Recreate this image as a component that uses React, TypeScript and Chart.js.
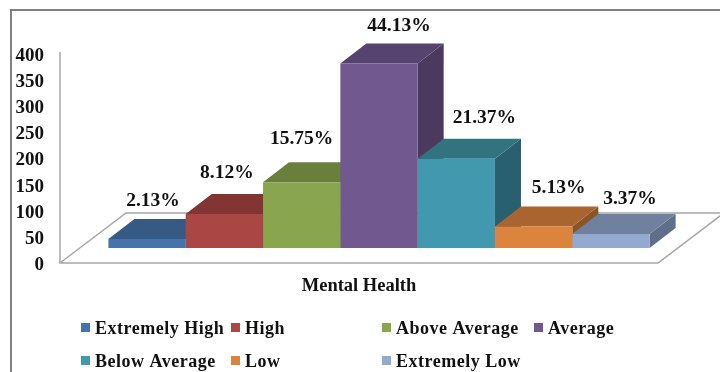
import { useEffect, useRef } from "react";
import { Chart, registerables } from "chart.js";

Chart.register(...registerables);

const categories = ["Mental Health"];
const levels = ["Extremely High", "High", "Above Average", "Average", "Below Average", "Low", "Extremely Low"];
const counts = [17, 65, 126, 353, 171, 41, 27];
const percentLabels = ["2.13%", "8.12%", "15.75%", "44.13%", "21.37%", "5.13%", "3.37%"];
const frontColors = ["#4674AA", "#AA4643", "#89A54E", "#71588F", "#4198AF", "#DB843D", "#93A9CF"];
const topColors = ["#375A85", "#833533", "#6B7F3D", "#57436F", "#31737F", "#A8652F", "#6F819F"];
const sideColors = ["#2E4B6F", "#6E2C2A", "#596A33", "#4B3A5E", "#29606F", "#8A5428", "#5F6F89"];
const yTicks = [0, 50, 100, 150, 200, 250, 300, 350, 400];

// Oblique projection used for the floor and the bar solids.
const FONT = "'Liberation Serif'";
const AXIS_GRAY = "#A6A6A6";
const FLOOR_LIFT = 2;
const FLOOR_DEPTH = { x: 66, y: 50 };
const BAR_SHIFT = { x: 20, y: 17 };
const BAR_DEPTH = { x: 26, y: 20 };
const LABEL_NUDGE_X = [6, 2.5, 0, 20, 28, 25, 19];
const LABEL_GAP_Y = [18, 21, 23, 18, 21, 19, 15];
const LEGEND_COLUMNS = [81, 231, 382, 534];
const LEGEND_ROWS = [328, 361];
const LEGEND_ORDER = [[0, 1, 2, 3], [4, 5, 6]];

const floorPlugin = {
  id: "floor",
  beforeDatasetsDraw(chart: any) {
    const { ctx, chartArea: a } = chart;
    const bottom = a.bottom - FLOOR_LIFT;
    ctx.save();
    ctx.strokeStyle = AXIS_GRAY;
    ctx.lineWidth = 1.5;
    ctx.beginPath();
    ctx.moveTo(a.left, a.top - 4);
    ctx.lineTo(a.left, bottom);
    ctx.lineTo(a.right, bottom);
    ctx.lineTo(a.right + FLOOR_DEPTH.x, bottom - FLOOR_DEPTH.y);
    ctx.moveTo(a.left, bottom);
    ctx.lineTo(a.left + FLOOR_DEPTH.x, bottom - FLOOR_DEPTH.y);
    ctx.lineTo(a.right + FLOOR_DEPTH.x, bottom - FLOOR_DEPTH.y);
    ctx.stroke();
    ctx.restore();
  },
};

// Tops and sides go first, left to right; the library then paints the front faces over them.
const solidBarsPlugin = {
  id: "solidBars",
  beforeDatasetsDraw(chart: any) {
    const { ctx } = chart;
    ctx.save();
    ctx.translate(BAR_SHIFT.x, -BAR_SHIFT.y);
    levels.forEach((_, i) => {
      const bar = chart.getDatasetMeta(i).data[0];
      const left = bar.x - bar.width / 2;
      const right = bar.x + bar.width / 2;
      ctx.fillStyle = sideColors[i];
      ctx.beginPath();
      ctx.moveTo(right, bar.y);
      ctx.lineTo(right + BAR_DEPTH.x, bar.y - BAR_DEPTH.y);
      ctx.lineTo(right + BAR_DEPTH.x, bar.base - BAR_DEPTH.y);
      ctx.lineTo(right, bar.base);
      ctx.closePath();
      ctx.fill();
      ctx.fillStyle = topColors[i];
      ctx.beginPath();
      ctx.moveTo(left, bar.y);
      ctx.lineTo(left + BAR_DEPTH.x, bar.y - BAR_DEPTH.y);
      ctx.lineTo(right + BAR_DEPTH.x, bar.y - BAR_DEPTH.y);
      ctx.lineTo(right, bar.y);
      ctx.closePath();
      ctx.fill();
    });
  },
  afterDatasetsDraw(chart: any) {
    const { ctx } = chart;
    ctx.restore();
    ctx.save();
    ctx.font = `bold 19.5px ${FONT}`;
    ctx.fillStyle = "#111";
    ctx.textAlign = "center";
    ctx.textBaseline = "middle";
    levels.forEach((_, i) => {
      const bar = chart.getDatasetMeta(i).data[0];
      const x = bar.x + BAR_SHIFT.x + LABEL_NUDGE_X[i];
      const y = bar.y - BAR_SHIFT.y - BAR_DEPTH.y - LABEL_GAP_Y[i];
      ctx.fillText(percentLabels[i], x, y);
    });
    ctx.restore();
  },
};

// Two-row legend on fixed columns.
const gridLegendPlugin = {
  id: "gridLegend",
  afterDraw(chart: any) {
    const { ctx } = chart;
    ctx.save();
    ctx.font = `bold 18px ${FONT}`;
    ctx.letterSpacing = "0.5px";
    ctx.textBaseline = "middle";
    LEGEND_ORDER.forEach((row, r) => {
      row.forEach((i, c) => {
        const x = LEGEND_COLUMNS[c];
        const y = LEGEND_ROWS[r];
        ctx.fillStyle = frontColors[i];
        ctx.fillRect(x, y - 5, 9, 9);
        ctx.fillStyle = "#111";
        ctx.fillText(chart.data.datasets[i].label, x + 14, y + 1);
      });
    });
    ctx.restore();
  },
};

export default function App() {
  const ref = useRef<HTMLCanvasElement>(null);
  useEffect(() => {
    const chart = new Chart(ref.current!, {
      type: "bar",
      data: {
        labels: categories,
        datasets: levels.map((label, i) => ({
          label,
          data: [counts[i]],
          backgroundColor: frontColors[i],
          borderWidth: 0,
          categoryPercentage: 0.905,
          barPercentage: 1,
          clip: false as any,
        })),
      },
      options: {
        responsive: false,
        animation: false,
        layout: { padding: { top: 56, right: 62, left: 0, bottom: 0 } },
        plugins: { legend: { display: false }, tooltip: { enabled: false }, title: { display: false } },
        scales: {
          x: {
            grid: { display: false, drawTicks: false },
            border: { display: false },
            ticks: { color: "#111", font: { family: FONT, size: 18.5, weight: "bold" }, padding: 10 },
            afterFit: (s: any) => { s.height = 107; },
          },
          y: {
            min: 0,
            max: 400,
            afterBuildTicks: (s: any) => { s.ticks = yTicks.map((value) => ({ value })); },
            grid: { display: false, drawTicks: false },
            border: { display: false },
            ticks: { color: "#111", font: { family: FONT, size: 19, weight: "bold" }, padding: 16 },
            afterFit: (s: any) => { s.width = 60; },
          },
        },
      },
      plugins: [floorPlugin, solidBarsPlugin, gridLegendPlugin],
    });
    return () => chart.destroy();
  }, []);
  return (
    <div style={{ position: "fixed", left: 0, top: 0, width: 720, height: 372, background: "#fff", overflow: "hidden" }}>
      <div style={{ position: "absolute", left: 10, top: 9, right: -5, bottom: -5, border: "2px solid #808080", boxSizing: "border-box" }} />
      <canvas ref={ref} width={720} height={372} style={{ position: "absolute", left: 0, top: 0 }} />
    </div>
  );
}
